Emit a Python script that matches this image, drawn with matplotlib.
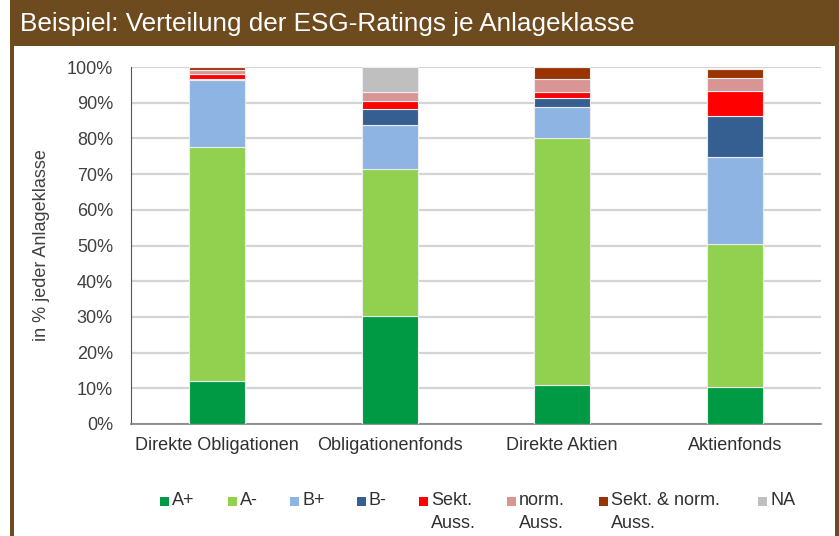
import matplotlib
matplotlib.use('Agg')
import matplotlib.pyplot as plt
from matplotlib.patches import Rectangle
from matplotlib import font_manager

categories = ['Direkte Obligationen', 'Obligationenfonds', 'Direkte Aktien', 'Aktienfonds']
ratings = ['A+', 'A-', 'B+', 'B-', 'Sekt.\nAuss.', 'norm.\nAuss.', 'Sekt. & norm.\nAuss.', 'NA']
colors = ['#009A44', '#92D050', '#8EB4E3', '#365F91', '#FF0000', '#D99594', '#993300', '#BFBFBF']

# Anteile in % je Anlageklasse
a_plus = [12.0, 30.2, 10.8, 10.5]
a_minus = [65.6, 41.3, 69.4, 40.0]
b_plus = [18.8, 12.3, 8.5, 24.3]
b_minus = [0.2, 4.3, 2.7, 11.4]
sekt_auss = [1.3, 2.5, 1.7, 7.0]
norm_auss = [1.2, 2.3, 3.4, 3.7]
sekt_norm_auss = [0.9, 0.1, 3.5, 2.5]
na = [0.0, 7.0, 0.0, 0.0]
series = [a_plus, a_minus, b_plus, b_minus, sekt_auss, norm_auss, sekt_norm_auss, na]

names = {f.name for f in font_manager.fontManager.ttflist}
font = 'Liberation Sans Narrow' if 'Liberation Sans Narrow' in names else 'Liberation Sans'
plt.rcParams['font.family'] = [font, 'DejaVu Sans']

W, H = 839, 536
fig = plt.figure(figsize=(W / 100, H / 100), dpi=100)

# brown frame and header
brown = '#6E4B1F'
fig.patches.append(Rectangle((10 / W, 1 - 46 / H), 1, 46 / H, transform=fig.transFigure,
                             facecolor=brown, edgecolor='none'))
fig.patches.append(Rectangle((10 / W, 0), 4 / W, 1, transform=fig.transFigure,
                             facecolor=brown, edgecolor='none'))
fig.patches.append(Rectangle((835 / W, 0), 4 / W, 1, transform=fig.transFigure,
                             facecolor=brown, edgecolor='none'))
fig.text(20 / W, 1 - 24 / H, 'Beispiel: Verteilung der ESG-Ratings je Anlageklasse',
         color='white', fontsize=18.8, va='center', ha='left')

ax = fig.add_axes([131 / W, 1 - 424 / H, (821 - 131) / W, (424 - 67) / H])
x = range(len(categories))
bottom = [0.0] * len(categories)
for vals, col, lab in zip(series, colors, ratings):
    ax.bar(x, vals, bottom=bottom, width=0.325, color=col, edgecolor='#ececec',
           linewidth=0.8, label=lab, zorder=3)
    bottom = [b + v for b, v in zip(bottom, vals)]

ax.set_ylim(0, 100)
ax.set_xlim(-0.5, 3.5)
ax.set_yticks(range(0, 101, 10))
ax.set_yticklabels([f'{v}%' for v in range(0, 101, 10)])
ax.set_xticks(list(x))
ax.set_xticklabels(categories)
ax.tick_params(axis='y', length=0, pad=13, labelsize=13, labelcolor='#404040')
ax.tick_params(axis='x', length=0, pad=9, labelsize=13, labelcolor='#303030')
ax.grid(axis='y', color='#d4d4d4', linewidth=1.6, zorder=0)
ax.set_axisbelow(True)
for s in ['top', 'right']:
    ax.spines[s].set_visible(False)
ax.spines['left'].set_color('#555555')
ax.spines['left'].set_linewidth(0.8)
ax.spines['bottom'].set_color('#808080')
ax.spines['bottom'].set_linewidth(1.2)
ax.set_ylabel('in % jeder Anlageklasse', fontsize=13, color='#404040', labelpad=12)

# legend drawn item by item
leg_x = [160, 228, 290, 357, 419, 507, 599, 758]
for lx, col, lab in zip(leg_x, colors, ratings):
    fig.patches.append(Rectangle((lx / W, 1 - 506 / H), 9 / W, 9 / H, transform=fig.transFigure,
                                 facecolor=col, edgecolor='none'))
    fig.text((lx + 12) / W, 1 - 492 / H, lab, fontsize=13, color='#303030',
             va='top', ha='left', linespacing=1.45)

fig.savefig('out.png', dpi=100)
